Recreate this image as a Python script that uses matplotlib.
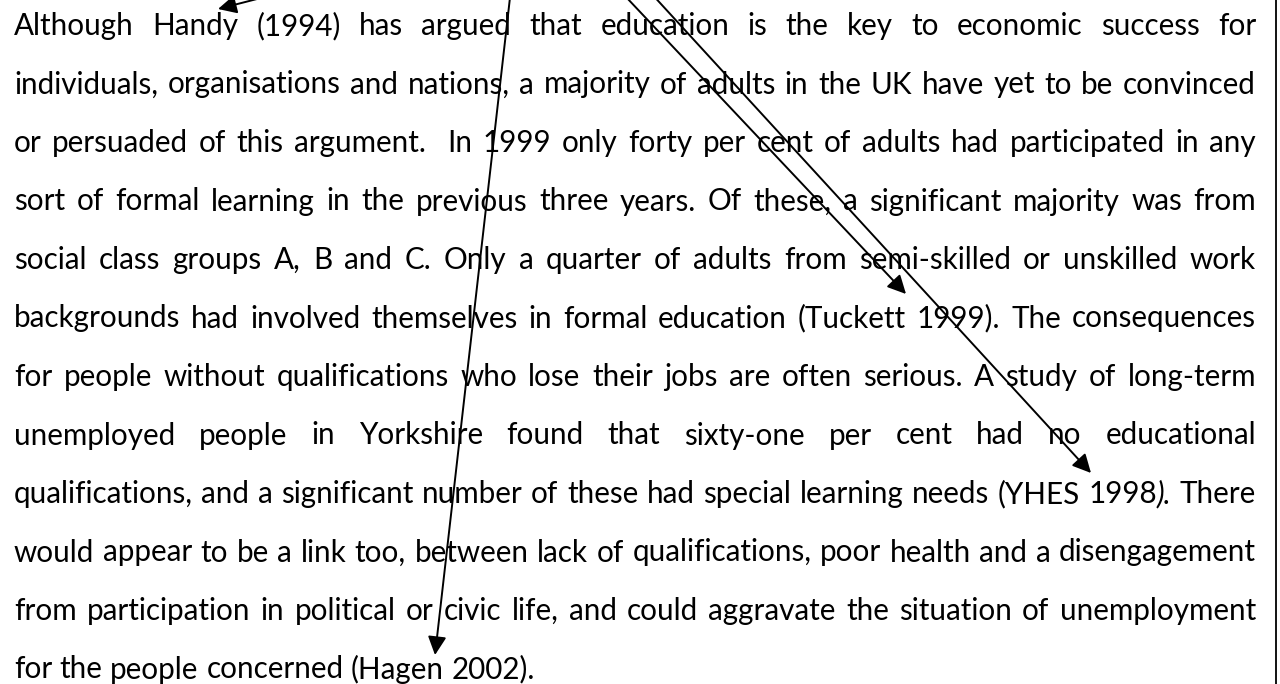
import matplotlib
matplotlib.use('Agg')
import matplotlib.pyplot as plt

# paragraph text, one entry per printed line ('*' starts an italic piece)
lines = [
    "Although Handy (1994) has argued that education is the key to economic success for",
    "individuals, organisations and nations, a majority of adults in the UK have yet to be convinced",
    "or persuaded of this argument.  In 1999 only forty per cent of adults had participated in any",
    "sort of formal learning in the previous three years. Of these, a significant majority was from",
    "social class groups A, B and C. Only a quarter of adults from semi-skilled or unskilled work",
    "backgrounds had involved themselves in formal education (Tuckett 1999). The consequences",
    "for people without qualifications who lose their jobs are often serious. A study of long-term",
    "unemployed people in Yorkshire found that sixty-one per cent had no educational",
    "qualifications, and a significant number of these had special learning needs (YHES 1998*). There",
    "would appear to be a link too, between lack of qualifications, poor health and a disengagement",
    "from participation in political or civic life, and could aggravate the situation of unemployment",
    "for the people concerned (Hagen 2002).",
]

# arrows: tail (off the top of the page) -> tip, in pixel coords
arrow_tails = [(331, -20), (512, -20), (610, -20), (639, -20)]
arrow_tips = [(218, 9), (435, 655), (906, 294), (1091, 473)]

W, H = 1280, 684
left, right = 14, 1256
base_y, step = 35, 58.5
font = 'Lato'

fig = plt.figure(figsize=(W / 100, H / 100), dpi=100)
ax = fig.add_axes([0, 0, 1, 1])
ax.set_xlim(0, W)
ax.set_ylim(H, 0)
ax.axis('off')
r = fig.canvas.get_renderer()


def pieces(tok):
    if '*' in tok:
        a, b = tok.split('*')
        return [(a, 'normal'), (b, 'italic')]
    return [(tok, 'normal')]


def tw(s, size, style='normal'):
    if s == '':
        return 0.0
    t = ax.text(0, 0, s, fontsize=size, family=font, style=style)
    w = t.get_window_extent(r).width
    t.remove()
    return w


def space_w(size):
    return tw('x x', size) - tw('xx', size)


# pick a size so that the tightest justified line fits with normal spaces
size0 = 20
sw0 = space_w(size0)
ratios = []
for ln in lines[:-1]:
    toks = ln.split(' ')
    nat = sum(tw(p, size0, s) for tk in toks for p, s in pieces(tk)) + sw0 * (len(toks) - 1)
    ratios.append((right - left) / nat)
size = size0 * min(ratios) * 0.995
sw = space_w(size)

for i, ln in enumerate(lines):
    y = base_y + i * step
    toks = ln.split(' ')
    widths = [sum(tw(p, size, s) for p, s in pieces(tk)) for tk in toks]
    if i < len(lines) - 1:
        gap = (right - left - sum(widths)) / (len(toks) - 1)
    else:
        gap = sw
    x = left
    for tk, w in zip(toks, widths):
        xx = x
        for p, s in pieces(tk):
            if p:
                ax.text(xx, y, p, fontsize=size, family=font, style=s,
                        color='black', va='baseline', ha='left')
                xx += tw(p, size, s)
        x += w + gap

for (x0, y0), (x1, y1) in zip(arrow_tails, arrow_tips):
    ax.annotate('', xy=(x1, y1), xytext=(x0, y0),
                arrowprops=dict(arrowstyle='-|>,head_length=0.4,head_width=0.2',
                                color='black', lw=1.4, mutation_scale=28,
                                shrinkA=0, shrinkB=0))

ax.axvline(1276, color='black', lw=1.3)

fig.savefig('out.png', dpi=100)
